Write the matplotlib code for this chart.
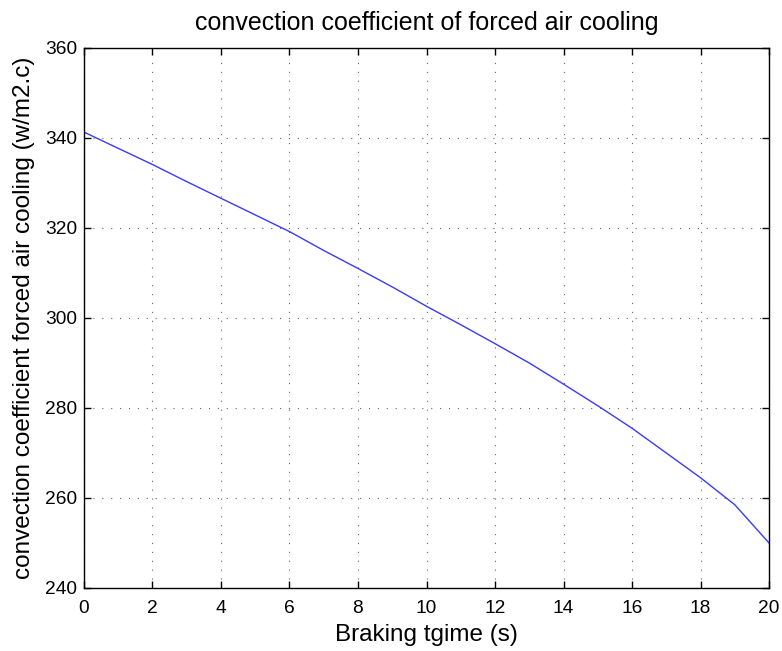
import matplotlib
matplotlib.use("Agg")
import matplotlib.pyplot as plt

# braking time (s) and convection coefficient (w/m2.c)
time_s = [0, 1, 2, 3, 4, 5, 6, 7, 8, 9, 10,
          11, 12, 13, 14, 15, 16, 17, 18, 19, 20]
h_conv = [341.3, 337.7, 334.1, 330.3, 326.6, 322.9, 319.2, 315.0, 311.0, 306.9, 302.6,
          298.5, 294.3, 290.0, 285.3, 280.5, 275.5, 270.0, 264.5, 258.5, 250.0]

plt.rcParams['font.family'] = ['Liberation Sans', 'DejaVu Sans']

fig = plt.figure(figsize=(7.82, 6.51), dpi=100)
ax = fig.add_axes([0.1074, 0.0968, 0.876, 0.8295])

ax.plot(time_s, h_conv, color='#3a3aff', linewidth=1.0)

ax.set_xlim(0, 20)
ax.set_ylim(240, 360)
ax.set_xticks(range(0, 21, 2))
ax.set_yticks(range(240, 361, 20))
ax.grid(True, linestyle=(0, (1, 7)), color='#666666', linewidth=0.8)
ax.tick_params(direction='in', top=True, right=True, labelsize=13.8, length=5, width=1)
ax.tick_params(axis='x', pad=9)
ax.tick_params(axis='y', pad=5)
for s in ax.spines.values():
    s.set_linewidth(1.0)

ax.set_title('convection coefficient of forced air cooling', fontsize=18, pad=13)
ax.set_xlabel('Braking tgime (s)', fontsize=17.5, labelpad=5)
ax.set_ylabel('convection coefficient forced air cooling (w/m2.c)', fontsize=17.5, labelpad=7)

fig.savefig('out.png', dpi=100)
